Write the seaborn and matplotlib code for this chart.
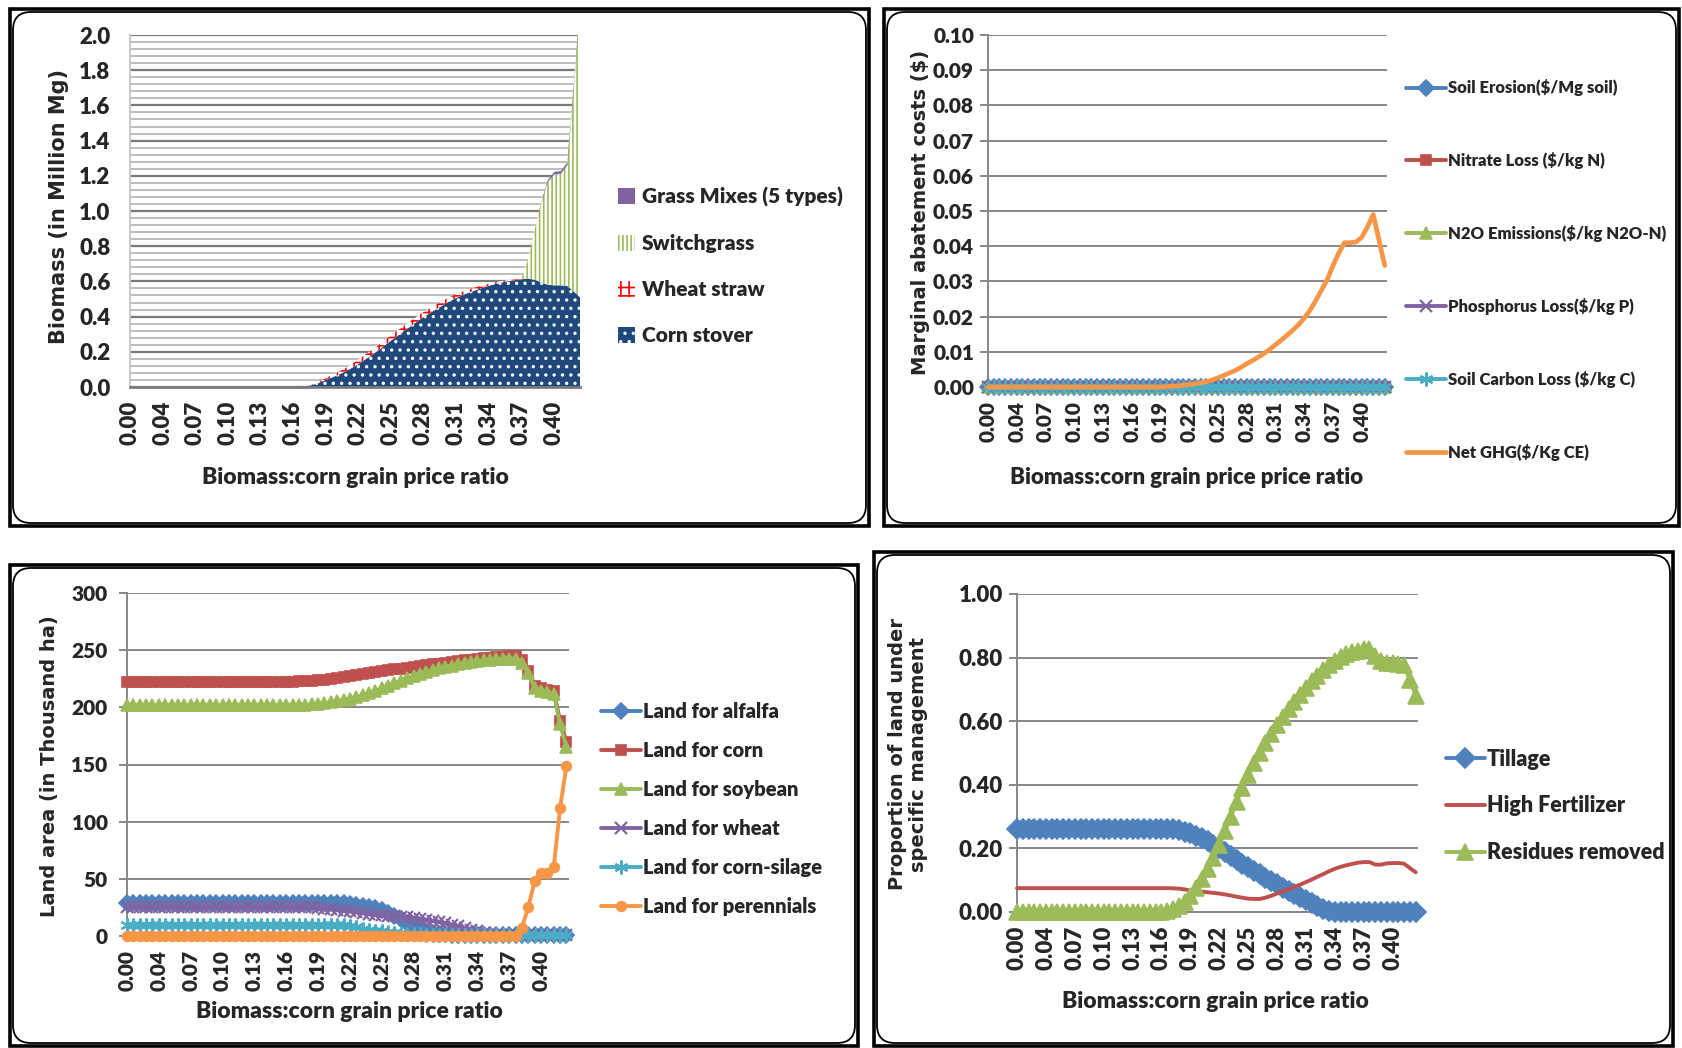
import numpy as np
import matplotlib
matplotlib.use("Agg")
import matplotlib.pyplot as plt
import seaborn as sns
from matplotlib.patches import Patch, FancyBboxPatch, Rectangle
from matplotlib.lines import Line2D
from matplotlib.transforms import IdentityTransform
from matplotlib.ticker import FormatStrFormatter

# ---------------------------------------------------------------------------
# Shared category axis: biomass:corn grain price ratio (70 scenarios)
# ---------------------------------------------------------------------------
price_ratio_labels = ["0.00", "0.04", "0.07", "0.10", "0.13", "0.16", "0.19",
                      "0.22", "0.25", "0.28", "0.31", "0.34", "0.37", "0.40"]
label_every = 5

# ---------------------------------------------------------------------------
# Panel 1: biomass supplied (million Mg), stacked
# ---------------------------------------------------------------------------
corn_stover = [
    0.000, 0.000, 0.000, 0.000, 0.000, 0.000, 0.000, 0.000, 0.000, 0.000,
    0.000, 0.000, 0.000, 0.000, 0.000, 0.000, 0.000, 0.000, 0.000, 0.000,
    0.000, 0.000, 0.000, 0.000, 0.000, 0.000, 0.000, 0.004, 0.012, 0.025,
    0.040, 0.055, 0.070, 0.088, 0.108, 0.130, 0.155, 0.180, 0.206, 0.235,
    0.263, 0.290, 0.317, 0.344, 0.372, 0.397, 0.420, 0.443, 0.465, 0.487,
    0.506, 0.522, 0.537, 0.550, 0.563, 0.575, 0.585, 0.594, 0.601, 0.607,
    0.612, 0.616, 0.610, 0.595, 0.582, 0.578, 0.578, 0.575, 0.545, 0.510]
wheat_straw = [
    0.000, 0.000, 0.000, 0.000, 0.000, 0.000, 0.000, 0.000, 0.000, 0.000,
    0.000, 0.000, 0.000, 0.000, 0.000, 0.000, 0.000, 0.000, 0.000, 0.000,
    0.000, 0.000, 0.000, 0.000, 0.000, 0.000, 0.000, 0.000, 0.003, 0.006,
    0.010, 0.013, 0.016, 0.019, 0.022, 0.025, 0.027, 0.028, 0.029, 0.030,
    0.030, 0.030, 0.030, 0.030, 0.029, 0.028, 0.027, 0.026, 0.025, 0.024,
    0.022, 0.020, 0.018, 0.016, 0.014, 0.012, 0.010, 0.008, 0.006, 0.004,
    0.002, 0.000, 0.000, 0.000, 0.000, 0.000, 0.000, 0.000, 0.000, 0.000]
switchgrass = [
    0.000, 0.000, 0.000, 0.000, 0.000, 0.000, 0.000, 0.000, 0.000, 0.000,
    0.000, 0.000, 0.000, 0.000, 0.000, 0.000, 0.000, 0.000, 0.000, 0.000,
    0.000, 0.000, 0.000, 0.000, 0.000, 0.000, 0.000, 0.000, 0.000, 0.000,
    0.000, 0.000, 0.000, 0.000, 0.000, 0.000, 0.000, 0.000, 0.000, 0.000,
    0.000, 0.000, 0.000, 0.000, 0.000, 0.000, 0.000, 0.000, 0.000, 0.000,
    0.000, 0.000, 0.000, 0.000, 0.000, 0.000, 0.000, 0.000, 0.000, 0.000,
    0.000, 0.104, 0.275, 0.450, 0.588, 0.632, 0.637, 0.690, 1.160, 1.675]
grass_mixes = [
    0.000, 0.000, 0.000, 0.000, 0.000, 0.000, 0.000, 0.000, 0.000, 0.000,
    0.000, 0.000, 0.000, 0.000, 0.000, 0.000, 0.000, 0.000, 0.000, 0.000,
    0.000, 0.000, 0.000, 0.000, 0.000, 0.000, 0.000, 0.000, 0.000, 0.000,
    0.000, 0.000, 0.000, 0.000, 0.000, 0.000, 0.000, 0.000, 0.000, 0.000,
    0.000, 0.000, 0.000, 0.000, 0.000, 0.000, 0.000, 0.000, 0.000, 0.000,
    0.000, 0.000, 0.000, 0.000, 0.000, 0.000, 0.000, 0.000, 0.000, 0.000,
    0.000, 0.000, 0.000, 0.005, 0.010, 0.015, 0.015, 0.015, 0.015, 0.015]

# ---------------------------------------------------------------------------
# Panel 2: marginal abatement costs ($)
# The five non-GHG costs stay at zero across every scenario.
# ---------------------------------------------------------------------------
zero_cost = [
    0.0, 0.0, 0.0, 0.0, 0.0, 0.0, 0.0, 0.0, 0.0, 0.0,
    0.0, 0.0, 0.0, 0.0, 0.0, 0.0, 0.0, 0.0, 0.0, 0.0,
    0.0, 0.0, 0.0, 0.0, 0.0, 0.0, 0.0, 0.0, 0.0, 0.0,
    0.0, 0.0, 0.0, 0.0, 0.0, 0.0, 0.0, 0.0, 0.0, 0.0,
    0.0, 0.0, 0.0, 0.0, 0.0, 0.0, 0.0, 0.0, 0.0, 0.0,
    0.0, 0.0, 0.0, 0.0, 0.0, 0.0, 0.0, 0.0, 0.0, 0.0,
    0.0, 0.0, 0.0, 0.0, 0.0, 0.0, 0.0, 0.0, 0.0, 0.0]
net_ghg = [
    0.0000, 0.0000, 0.0000, 0.0000, 0.0000, 0.0000, 0.0000, 0.0000, 0.0000, 0.0000,
    0.0000, 0.0000, 0.0000, 0.0000, 0.0000, 0.0000, 0.0000, 0.0000, 0.0000, 0.0000,
    0.0000, 0.0000, 0.0000, 0.0000, 0.0000, 0.0000, 0.0000, 0.0000, 0.0000, 0.0000,
    0.0000, 0.0001, 0.0002, 0.0003, 0.0005, 0.0007, 0.0009, 0.0012, 0.0015, 0.0020,
    0.0026, 0.0033, 0.0040, 0.0047, 0.0056, 0.0066, 0.0075, 0.0085, 0.0095, 0.0107,
    0.0120, 0.0133, 0.0147, 0.0161, 0.0177, 0.0195, 0.0218, 0.0245, 0.0275, 0.0305,
    0.0345, 0.0380, 0.0410, 0.0410, 0.0412, 0.0425, 0.0455, 0.0490, 0.0418, 0.0345]

# ---------------------------------------------------------------------------
# Panel 3: land area (thousand ha)
# ---------------------------------------------------------------------------
land_alfalfa = [
    29.0, 29.0, 29.0, 29.0, 29.0, 29.0, 29.0, 29.0, 29.0, 29.0,
    29.0, 29.0, 29.0, 29.0, 29.0, 29.0, 29.0, 29.0, 29.0, 29.0,
    29.0, 29.0, 29.0, 29.0, 29.0, 29.0, 29.0, 29.0, 29.0, 29.0,
    29.0, 29.0, 29.0, 28.8, 28.5, 28.0, 27.2, 26.3, 25.2, 24.1,
    23.0, 20.5, 17.5, 14.5, 11.5, 9.0, 6.5, 4.5, 3.0, 2.0,
    1.5, 1.0, 1.0, 1.0, 1.0, 1.0, 1.0, 1.0, 1.0, 1.0,
    1.0, 1.0, 1.0, 1.0, 1.0, 1.0, 1.0, 1.0, 1.0, 1.0]
land_corn = [
    222.0, 222.0, 222.0, 222.0, 222.0, 222.0, 222.0, 222.0, 222.0, 222.0,
    222.0, 222.0, 222.0, 222.0, 222.0, 222.0, 222.0, 222.0, 222.0, 222.0,
    222.0, 222.0, 222.0, 222.0, 222.0, 222.0, 222.3, 222.6, 223.0, 223.4,
    223.8, 224.3, 225.0, 225.7, 226.4, 227.2, 228.0, 228.8, 229.7, 230.6,
    231.5, 232.3, 233.1, 233.8, 234.5, 235.2, 236.0, 236.8, 237.6, 238.3,
    239.0, 239.7, 240.4, 241.0, 241.6, 242.2, 242.8, 243.3, 243.8, 244.2,
    244.5, 244.5, 241.0, 232.0, 219.0, 216.5, 215.5, 214.0, 188.0, 170.0]
land_soybean = [
    202.0, 202.0, 202.0, 202.0, 202.0, 202.0, 202.0, 202.0, 202.0, 202.0,
    202.0, 202.0, 202.0, 202.0, 202.0, 202.0, 202.0, 202.0, 202.0, 202.0,
    202.0, 202.0, 202.0, 202.0, 202.0, 202.0, 202.0, 202.0, 202.3, 202.7,
    203.2, 203.8, 204.5, 205.4, 206.4, 207.6, 209.0, 210.6, 212.4, 214.4,
    216.6, 218.8, 221.0, 223.2, 225.4, 227.5, 229.3, 231.0, 232.6, 234.0,
    235.3, 236.5, 237.6, 238.6, 239.5, 240.3, 241.0, 241.6, 242.1, 242.5,
    242.7, 242.5, 239.0, 230.0, 217.0, 214.5, 213.5, 211.5, 185.0, 165.0]
land_wheat = [
    25.0, 25.0, 25.0, 25.0, 25.0, 25.0, 25.0, 25.0, 25.0, 25.0,
    25.0, 25.0, 25.0, 25.0, 25.0, 25.0, 25.0, 25.0, 25.0, 25.0,
    25.0, 25.0, 25.0, 25.0, 25.0, 25.0, 25.0, 25.0, 25.0, 25.0,
    24.5, 24.0, 23.5, 23.0, 22.3, 21.5, 20.7, 20.0, 19.3, 18.7,
    18.2, 17.8, 17.4, 17.0, 16.5, 16.0, 15.2, 14.3, 13.3, 12.3,
    11.2, 10.0, 8.6, 7.0, 5.5, 4.0, 2.8, 1.8, 1.0, 0.5,
    0.5, 0.5, 0.5, 0.5, 0.5, 0.5, 0.5, 0.5, 0.5, 0.5]
land_corn_silage = [
    10.0, 10.0, 10.0, 10.0, 10.0, 10.0, 10.0, 10.0, 10.0, 10.0,
    10.0, 10.0, 10.0, 10.0, 10.0, 10.0, 10.0, 10.0, 10.0, 10.0,
    10.0, 10.0, 10.0, 10.0, 10.0, 10.0, 10.0, 10.0, 10.0, 10.0,
    10.0, 10.0, 10.0, 10.0, 9.5, 8.5, 7.5, 6.5, 5.5, 4.8,
    4.2, 3.6, 3.0, 2.5, 2.0, 1.7, 1.5, 1.2, 1.0, 1.0,
    1.0, 1.0, 1.0, 1.0, 1.0, 1.0, 1.0, 1.0, 1.0, 1.0,
    1.0, 1.0, 1.0, 1.0, 1.0, 1.0, 1.0, 1.0, 1.0, 1.0]
land_perennials = [
    0.0, 0.0, 0.0, 0.0, 0.0, 0.0, 0.0, 0.0, 0.0, 0.0,
    0.0, 0.0, 0.0, 0.0, 0.0, 0.0, 0.0, 0.0, 0.0, 0.0,
    0.0, 0.0, 0.0, 0.0, 0.0, 0.0, 0.0, 0.0, 0.0, 0.0,
    0.0, 0.0, 0.0, 0.0, 0.0, 0.0, 0.0, 0.0, 0.0, 0.0,
    0.0, 0.0, 0.0, 0.0, 0.0, 0.0, 0.0, 0.0, 0.0, 0.0,
    0.0, 0.0, 0.0, 0.0, 0.0, 0.0, 0.0, 0.0, 0.0, 0.0,
    0.0, 0.0, 7.0, 25.0, 48.0, 55.0, 55.5, 60.0, 112.0, 149.0]

# ---------------------------------------------------------------------------
# Panel 4: proportion of land under specific management
# ---------------------------------------------------------------------------
tillage = [
    0.260, 0.260, 0.260, 0.260, 0.260, 0.260, 0.260, 0.260, 0.260, 0.260,
    0.260, 0.260, 0.260, 0.260, 0.260, 0.260, 0.260, 0.260, 0.260, 0.260,
    0.260, 0.260, 0.260, 0.260, 0.260, 0.260, 0.260, 0.260, 0.257, 0.253,
    0.247, 0.240, 0.232, 0.222, 0.211, 0.200, 0.188, 0.176, 0.164, 0.152,
    0.140, 0.129, 0.118, 0.107, 0.097, 0.087, 0.077, 0.067, 0.057, 0.047,
    0.038, 0.028, 0.019, 0.010, 0.004, 0.000, 0.000, 0.000, 0.000, 0.000,
    0.000, 0.000, 0.000, 0.000, 0.000, 0.000, 0.000, 0.000, 0.000, 0.000]
high_fertilizer = [
    0.075, 0.075, 0.075, 0.075, 0.075, 0.075, 0.075, 0.075, 0.075, 0.075,
    0.075, 0.075, 0.075, 0.075, 0.075, 0.075, 0.075, 0.075, 0.075, 0.075,
    0.075, 0.075, 0.075, 0.075, 0.075, 0.075, 0.075, 0.0745, 0.0735, 0.071,
    0.068, 0.066, 0.064, 0.062, 0.060, 0.058, 0.055, 0.052, 0.048, 0.045,
    0.042, 0.041, 0.041, 0.045, 0.051, 0.058, 0.065, 0.072, 0.079, 0.086,
    0.094, 0.102, 0.111, 0.119, 0.128, 0.136, 0.142, 0.147, 0.151, 0.155,
    0.157, 0.157, 0.149, 0.149, 0.153, 0.154, 0.154, 0.152, 0.138, 0.125]
residues_removed = [
    0.000, 0.000, 0.000, 0.000, 0.000, 0.000, 0.000, 0.000, 0.000, 0.000,
    0.000, 0.000, 0.000, 0.000, 0.000, 0.000, 0.000, 0.000, 0.000, 0.000,
    0.000, 0.000, 0.000, 0.000, 0.000, 0.000, 0.003, 0.008, 0.018, 0.032,
    0.050, 0.075, 0.103, 0.135, 0.170, 0.210, 0.255, 0.300, 0.345, 0.390,
    0.430, 0.467, 0.500, 0.532, 0.560, 0.587, 0.613, 0.637, 0.660, 0.683,
    0.705, 0.725, 0.743, 0.760, 0.776, 0.790, 0.801, 0.810, 0.817, 0.822,
    0.826, 0.828, 0.805, 0.790, 0.783, 0.782, 0.781, 0.776, 0.730, 0.680]

# ---------------------------------------------------------------------------
# Style
# ---------------------------------------------------------------------------
BLUE, RED, GREEN, PURPLE, AQUA, ORANGE = (
    "#4F81BD", "#C0504D", "#9BBB59", "#8064A2", "#4BACC6", "#F79646")
NAVY = "#1F497D"
GRID = "#878787"
WEIGHT = "heavy"

sns.set_theme(style="white")
plt.rcParams["font.family"] = ["Lato", "DejaVu Sans"]
plt.rcParams["font.weight"] = WEIGHT
plt.rcParams["hatch.linewidth"] = 1.2

W, H = 1682, 1048
fig = plt.figure(figsize=(W / 100, H / 100), dpi=100)
fig.patch.set_facecolor("white")

idx = np.arange(len(corn_stover))
tick_pos = idx[::label_every]
LABEL_FONT = ["DejaVu Sans"]


def px_axes(x0, y0, x1, y1):
    return fig.add_axes([x0 / W, 1 - y1 / H, (x1 - x0) / W, (y1 - y0) / H])


def ftext(x, y, s, weight=WEIGHT, **kw):
    kw.setdefault("ha", "center")
    kw.setdefault("va", "center")
    fig.text(x / W, 1 - y / H, s, fontweight=weight, **kw)


def panel_frame(x0, y0, x1, y1):
    tr = IdentityTransform()
    fig.add_artist(Rectangle((x0, H - y1), x1 - x0, y1 - y0, transform=tr,
                             fill=False, ec="black", lw=2.6))
    fig.add_artist(FancyBboxPatch((x0 + 3, H - y1 + 3), x1 - x0 - 6, y1 - y0 - 6,
                                  boxstyle="round,pad=0,rounding_size=18",
                                  transform=tr, fill=False, ec="black", lw=1.3))


def frame_axes(ax, ymax, ystep, fmt, tick_size, ytick_len=6, ypad=4):
    ax.set_xlim(0, idx[-1] + 0.4)
    ax.set_ylim(0, ymax)
    ax.set_yticks(np.arange(0, ymax + ystep / 2, ystep))
    ax.yaxis.set_major_formatter(FormatStrFormatter(fmt))
    ax.set_xticks(tick_pos)
    ax.set_xticklabels(price_ratio_labels, rotation=90)
    ax.tick_params(axis="x", length=0, pad=10, labelsize=tick_size)
    ax.tick_params(axis="y", length=ytick_len, width=1.4, color=GRID,
                   pad=ypad, labelsize=tick_size, left=True)
    for lab in ax.get_xticklabels() + ax.get_yticklabels():
        lab.set_fontweight(WEIGHT)
    ax.grid(axis="y", color=GRID, lw=1.4)
    ax.grid(axis="x", visible=False)
    ax.set_axisbelow(True)
    for s in ("top", "right"):
        ax.spines[s].set_visible(False)
    for s in ("left", "bottom"):
        ax.spines[s].set_color(GRID)
        ax.spines[s].set_linewidth(1.4)
    ax.set_facecolor("none")
    ax.set_xlabel("")
    ax.set_ylabel("")


def draw_line(ax, values, color, lw=2.8, marker=None, ms=8, mew=1.2,
              filled=True, z=3):
    kw = dict(color=color, linewidth=lw, clip_on=False, zorder=z)
    if marker is not None:
        kw.update(marker=marker, markersize=ms, markeredgecolor=color,
                  markerfacecolor=color if filled else "none",
                  markeredgewidth=mew)
    sns.lineplot(x=idx, y=values, ax=ax, estimator=None, legend=False, **kw)


def legend_handle(color, marker=None, ms=8, mew=1.2, lw=2.8):
    if marker is None:
        return Line2D([], [], color=color, lw=lw)
    return Line2D([], [], color=color, lw=lw, marker=marker, markersize=ms,
                  markeredgecolor=color, markerfacecolor=color,
                  markeredgewidth=mew)


def add_legend(handles, labels, x, y, size, **kw):
    leg = fig.legend(handles, labels, loc="center left",
                     bbox_to_anchor=(x / W, 1 - y / H), frameon=False,
                     fontsize=size, borderpad=0, borderaxespad=0, **kw)
    for t in leg.get_texts():
        t.set_fontweight(WEIGHT)
    return leg


# panel outlines
panel_frame(10, 9, 869, 526)
panel_frame(884, 9, 1679, 526)
panel_frame(10, 565, 858, 1046)
panel_frame(874, 552, 1673, 1046)

# ---------------------------------------------------------------------------
# Panel 1: stacked biomass areas
# ---------------------------------------------------------------------------
ax1 = px_axes(130, 35, 580, 387)
frame_axes(ax1, 2.0, 0.2, "%.1f", 16, ytick_len=0, ypad=14)
ax1.set_xlim(0, idx[-1])
ax1.grid(axis="y", color="#7a7a7a", lw=1.6)
for yv in np.arange(0.04, 2.0, 0.04):
    if abs(yv / 0.2 - round(yv / 0.2)) > 1e-6:
        ax1.axhline(yv, color="#bdbdbd", lw=1.4, zorder=0.5)
ax1.spines["left"].set_color("#c8c8c8")
ax1.spines["bottom"].set_color("#7a7a7a")
ax1.spines["bottom"].set_linewidth(2.0)

areas = ax1.stackplot(idx, corn_stover, wheat_straw, switchgrass, grass_mixes,
                      colors=[NAVY, "white", "white", PURPLE], zorder=2)
areas[0].set_edgecolor("white"); areas[0].set_hatch(".."); areas[0].set_linewidth(0)
areas[1].set_edgecolor("red"); areas[1].set_hatch("++"); areas[1].set_linewidth(0)
areas[2].set_edgecolor(GREEN); areas[2].set_hatch("||||"); areas[2].set_linewidth(0)
areas[3].set_edgecolor(PURPLE); areas[3].set_linewidth(0)

h1 = [Patch(facecolor=PURPLE, edgecolor=PURPLE, lw=0),
      Patch(facecolor="white", edgecolor=GREEN, hatch="||||", lw=0),
      Patch(facecolor="white", edgecolor="red", hatch="++", lw=0),
      Patch(facecolor=NAVY, edgecolor="white", hatch="..", lw=0)]
add_legend(h1, ["Grass Mixes (5 types)", "Switchgrass", "Wheat straw", "Corn stover"],
           618, 266, 15, handlelength=0.8, handleheight=0.8,
           handletextpad=0.35, labelspacing=1.3)
ftext(59, 206, "Biomass (in Million Mg)", weight="bold", rotation=90,
      fontsize=15, family=LABEL_FONT)
ftext(355, 478, "Biomass:corn grain price ratio", fontsize=16.5)

# ---------------------------------------------------------------------------
# Panel 2: marginal abatement costs
# ---------------------------------------------------------------------------
ax2 = px_axes(988, 35, 1387, 387)
frame_axes(ax2, 0.10, 0.01, "%.2f", 15)
cost_styles = [
    (BLUE, "D", 8, 1.2, True),
    (RED, "s", 7, 1.2, True),
    (GREEN, "^", 9, 1.2, True),
    (PURPLE, "x", 9, 1.6, False),
    (AQUA, (6, 2, 0), 10, 1.6, False),
]
for color, mk, ms, mew, filled in cost_styles:
    draw_line(ax2, zero_cost, color, marker=mk, ms=ms, mew=mew, filled=filled)
draw_line(ax2, net_ghg, ORANGE, lw=3.4, z=4)

h2 = [legend_handle(c, m, ms, mew) for c, m, ms, mew, _ in cost_styles]
h2.append(legend_handle(ORANGE, lw=3.4))
add_legend(h2, ["Soil Erosion($/Mg soil)", "Nitrate Loss ($/kg N)",
                "N2O Emissions($/kg N2O-N)", "Phosphorus Loss($/kg P)",
                "Soil Carbon Loss ($/kg C)", "Net GHG($/Kg CE)"],
           1406, 270, 12, handlelength=2.4, handletextpad=0.1,
           labelspacing=3.35)
ftext(920, 212, "Marginal abatement costs ($)", weight="bold", rotation=90,
      fontsize=14, family=LABEL_FONT)
ftext(1187, 477, "Biomass:corn grain price price ratio", fontsize=16)

# ---------------------------------------------------------------------------
# Panel 3: land allocation
# ---------------------------------------------------------------------------
ax3 = px_axes(127, 593, 569, 936)
frame_axes(ax3, 300, 50, "%.0f", 15, ypad=8)
land_styles = [
    (land_alfalfa, BLUE, "D", 8, 1.2, True),
    (land_corn, RED, "s", 7, 1.2, True),
    (land_soybean, GREEN, "^", 8, 1.2, True),
    (land_wheat, PURPLE, "x", 9, 1.6, False),
    (land_corn_silage, AQUA, (6, 2, 0), 10, 1.6, False),
    (land_perennials, ORANGE, "o", 7, 1.2, True),
]
for vals, color, mk, ms, mew, filled in land_styles:
    draw_line(ax3, vals, color, marker=mk, ms=ms, mew=mew, filled=filled)

h3 = [legend_handle(c, m, ms, mew) for _, c, m, ms, mew, _ in land_styles]
add_legend(h3, ["Land for alfalfa", "Land for corn", "Land for soybean",
                "Land for wheat", "Land for corn-silage", "Land for perennials"],
           601, 809, 14.5, handlelength=2.0, handletextpad=0.1,
           labelspacing=1.0)
ftext(50, 766, "Land area (in Thousand ha)", weight="bold", rotation=90,
      fontsize=14, family=LABEL_FONT)
ftext(349, 1012, "Biomass:corn grain price ratio", fontsize=16.5)

# ---------------------------------------------------------------------------
# Panel 4: management shares
# ---------------------------------------------------------------------------
ax4 = px_axes(1017, 594, 1418, 912)
frame_axes(ax4, 1.0, 0.2, "%.2f", 16)
draw_line(ax4, tillage, BLUE, marker="D", ms=10)
draw_line(ax4, high_fertilizer, RED, z=4)
draw_line(ax4, residues_removed, GREEN, marker="^", ms=12, z=5)

h4 = [legend_handle(BLUE, "D", 10), legend_handle(RED),
      legend_handle(GREEN, "^", 12)]
add_legend(h4, ["Tillage", "High Fertilizer", "Residues removed"],
           1446, 806, 15.5, handlelength=1.8, handletextpad=0.1,
           labelspacing=1.2)
ftext(908, 754, "Proportion of land under\nspecific management", weight="bold",
      rotation=90, fontsize=14, family=LABEL_FONT, linespacing=1.15)
ftext(1215, 1002, "Biomass:corn grain price ratio", fontsize=16.5)

fig.savefig("out.png", dpi=100)
